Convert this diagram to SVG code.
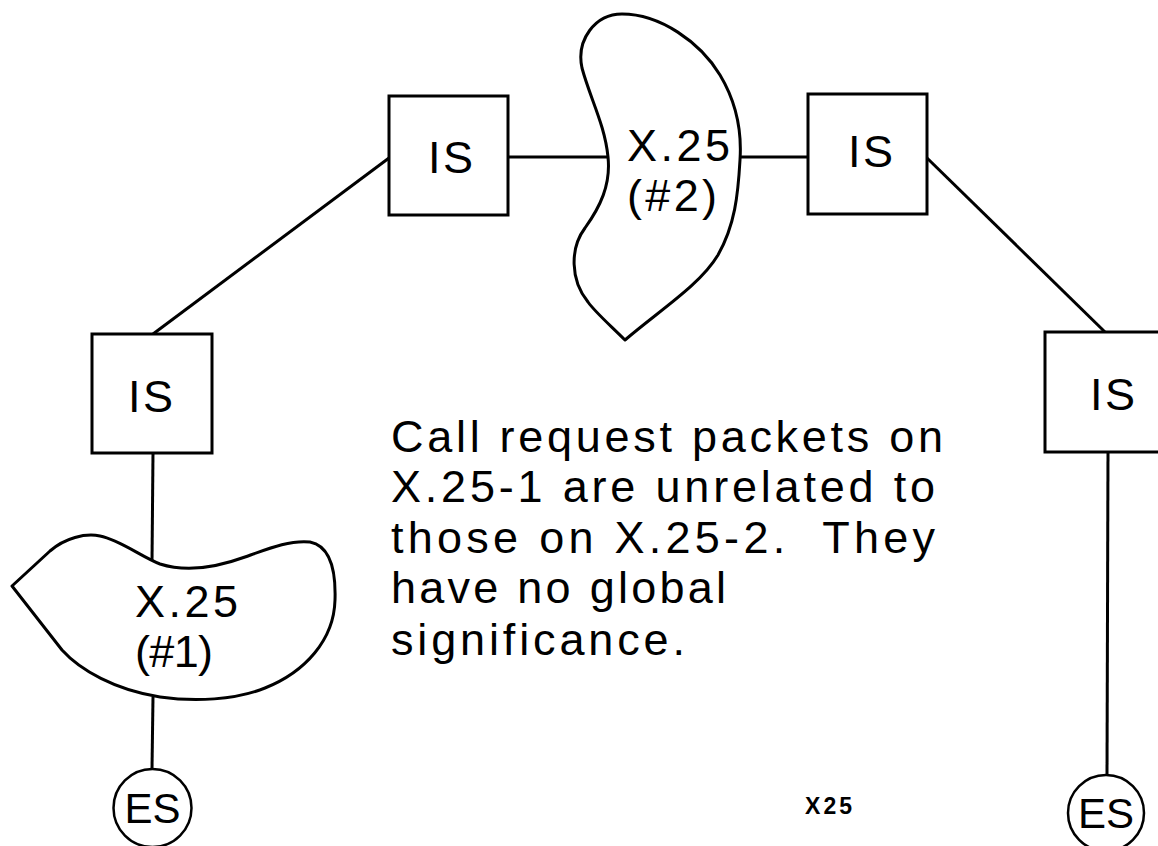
<svg xmlns="http://www.w3.org/2000/svg" width="1158" height="846" viewBox="0 0 1158 846">
<style>
.box{fill:#fff;stroke:#000;stroke-width:3}
.cloud{fill:#fff;stroke:#000;stroke-width:3;stroke-linejoin:round}
.es{fill:#fff;stroke:#000;stroke-width:2.5}
.conn line{stroke:#000;stroke-width:3;stroke-linecap:butt}
.lbl{font-family:"Liberation Sans",Arial,sans-serif;font-size:45px;fill:#000}
.esl{font-family:"Liberation Sans",Arial,sans-serif;font-size:42px;fill:#000;text-anchor:middle}
.note{font-family:"Liberation Sans",Arial,sans-serif;font-size:45px;fill:#000;white-space:pre}
.tag{font-family:"Liberation Sans",Arial,sans-serif;font-size:23px;font-weight:bold;fill:#000}
</style>
<rect width="1158" height="846" fill="#fff"/>
<g id="connectors" class="conn">
<line x1="153" y1="334" x2="389" y2="158"/>
<line x1="508" y1="157" x2="608" y2="157"/>
<line x1="740" y1="157" x2="808" y2="157"/>
<line x1="927" y1="158" x2="1105" y2="332"/>
<line x1="153" y1="453" x2="152" y2="562"/>
<line x1="153" y1="697" x2="152" y2="769"/>
<line x1="1108" y1="452" x2="1107" y2="775"/>
</g>
<g id="is-top-left">
<rect class="box" x="389" y="96" width="119" height="119"/>
<text class="lbl" x="428" y="173" textLength="45" lengthAdjust="spacing">IS</text>
</g>
<g id="x25-2">
<path class="cloud" d="M625 340 C610 325 595 312 588 302 C570 280 570 248 585 228 C600 207 611 185 608 157 C605 125 590 98 582 68 C576 40 595 14 622 14 C660 14 700 42 720 75 C735 100 742 130 740 160 C738 195 735 225 718 255 C700 285 660 310 625 340 Z"/>
<text class="lbl" x="627" y="161" textLength="103" lengthAdjust="spacing">X.25</text>
<text class="lbl" x="627" y="211" textLength="90" lengthAdjust="spacing">(#2)</text>
</g>
<g id="is-top-right">
<rect class="box" x="808" y="94" width="119" height="120"/>
<text class="lbl" x="848" y="167" textLength="45" lengthAdjust="spacing">IS</text>
</g>
<g id="is-left">
<rect class="box" x="92" y="334" width="120" height="119"/>
<text class="lbl" x="128" y="412" textLength="45" lengthAdjust="spacing">IS</text>
</g>
<g id="x25-1">
<path class="cloud" d="M12 586 L50 551 C65 538 85 533 100 536 C120 540 140 556 160 564 C185 572 215 568 245 557 C270 548 290 540 310 542 C330 546 336 570 335 600 C334 640 305 672 265 688 C235 700 195 702 160 697 C115 690 80 670 62 650 L12 586 Z"/>
<text class="lbl" x="135" y="617" textLength="103" lengthAdjust="spacing">X.25</text>
<text class="lbl" x="135" y="667" textLength="78" lengthAdjust="spacing">(#1)</text>
</g>
<g id="is-right">
<rect class="box" x="1045" y="332" width="120" height="120"/>
<text class="lbl" x="1090" y="410" textLength="45" lengthAdjust="spacing">IS</text>
</g>
<g id="es-left">
<circle class="es" cx="152.5" cy="808" r="39"/>
<text class="esl" x="152.5" y="823">ES</text>
</g>
<g id="es-right">
<circle class="es" cx="1106" cy="813" r="38"/>
<text class="esl" x="1106" y="828">ES</text>
</g>
<g id="note">
<text class="note" x="391" y="452" textLength="552" lengthAdjust="spacing">Call request packets on</text>
<text class="note" x="391" y="502" textLength="544" lengthAdjust="spacing">X.25-1 are unrelated to</text>
<text class="note" x="391" y="553" textLength="544" lengthAdjust="spacing" xml:space="preserve">those on X.25-2.  They</text>
<text class="note" x="391" y="603" textLength="335" lengthAdjust="spacing">have no global</text>
<text class="note" x="391" y="655" textLength="294" lengthAdjust="spacing">significance.</text>
</g>
<g id="tag">
<text class="tag" x="805" y="814" textLength="47" lengthAdjust="spacing">X25</text>
</g>
</svg>
